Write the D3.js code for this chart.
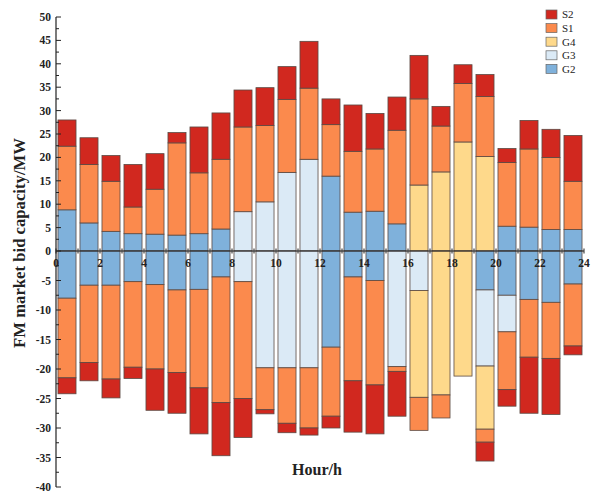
<!DOCTYPE html>
<html>
<head>
<meta charset="utf-8">
<script src="https://cdn.jsdelivr.net/npm/d3@7"></script>
<style>
  body { margin: 0; background: #fff; }
  svg text { font-family: "Liberation Serif", "DejaVu Serif", serif; }
</style>
</head>
<body>
<div id="chart"></div>
<script>
// --- data (MW), one value per hour 0..23 ---
const hours = d3.range(24);
const keys = ["G2", "G3", "G4", "S1", "S2"];
const legendKeys = ["S2", "S1", "G4", "G3", "G2"];

// upward bids (segment heights)
const g2Up = [8.8, 6.0, 4.2, 3.7, 3.6, 3.4, 3.7, 4.7, 0, 0, 0, 0, 16.0, 8.3, 8.5, 5.8, 0, 0, 0, 0, 5.3, 5.1, 4.6, 4.6];
const g3Up = [0, 0, 0, 0, 0, 0, 0, 0, 8.4, 10.5, 16.8, 19.6, 0, 0, 0, 0, 0, 0, 0, 0, 0, 0, 0, 0];
const g4Up = [0, 0, 0, 0, 0, 0, 0, 0, 0, 0, 0, 0, 0, 0, 0, 0, 14.1, 16.9, 23.3, 20.2, 0, 0, 0, 0];
const s1Up = [13.6, 12.5, 10.7, 5.7, 9.6, 19.7, 13.0, 14.9, 18.1, 16.3, 15.6, 15.2, 11.0, 13.0, 13.3, 20.0, 18.4, 9.8, 12.5, 12.8, 13.6, 16.7, 15.4, 10.3];
const s2Up = [5.6, 5.7, 5.5, 9.1, 7.6, 2.2, 9.8, 9.9, 7.9, 8.1, 7.0, 10.0, 5.5, 9.9, 7.6, 7.1, 9.3, 4.2, 4.0, 4.7, 3.0, 6.1, 6.0, 9.8];

// downward bids (segment heights, drawn below zero)
const g2Down = [8.0, 5.8, 5.8, 5.2, 5.7, 6.6, 6.5, 4.4, 0, 0, 0, 0, 16.3, 4.4, 5.0, 0, 0, 0, 0, 6.6, 7.5, 8.2, 8.7, 5.6];
const g3Down = [0, 0, 0, 0, 0, 0, 0, 0, 5.2, 19.8, 19.8, 19.8, 0, 0, 0, 19.6, 6.7, 0, 0, 12.9, 6.2, 0, 0, 0];
const g4Down = [0, 0, 0, 0, 0, 0, 0, 0, 0, 0, 0, 0, 0, 0, 0, 0, 18.1, 24.4, 21.2, 10.7, 0, 0, 0, 0];
const s1Down = [13.5, 13.1, 15.9, 14.5, 14.3, 14.0, 16.7, 21.3, 19.8, 7.1, 9.4, 10.2, 11.7, 17.6, 17.7, 0.8, 5.6, 3.9, 0, 2.2, 9.8, 9.8, 9.5, 10.5];
const s2Down = [2.7, 3.1, 3.2, 1.9, 7.0, 6.9, 7.8, 9.0, 6.6, 0.7, 1.6, 1.2, 2.0, 8.7, 8.3, 7.6, 0, 0, 0, 3.2, 2.8, 9.5, 9.5, 1.5];

const yTicks = d3.range(-40, 51, 5);
const xTicks = d3.range(0, 25, 2);

const colors = {
  S2: "#d1281f",
  S1: "#fb8a4d",
  G4: "#fed98b",
  G3: "#dbeaf6",
  G2: "#7fb1db"
};

// --- layout ---
const width = 591, height = 496;

const svg = d3.select("#chart").append("svg")
  .attr("width", width).attr("height", height);

const x = d3.scaleLinear().domain([0, 24]).range([56, 584]);
const xBand = d3.scaleBand().domain(hours).range([56, 584]).paddingInner(0.18).paddingOuter(0.09);
// the source picture has a different scale above and below zero
const y = d3.scaleLinear().domain([-40, 0, 50]).range([487, 251, 17]);

const upRows = hours.map(h => ({ hour: h, G2: g2Up[h], G3: g3Up[h], G4: g4Up[h], S1: s1Up[h], S2: s2Up[h] }));
const downRows = hours.map(h => ({ hour: h, G2: -g2Down[h], G3: -g3Down[h], G4: -g4Down[h], S1: -s1Down[h], S2: -s2Down[h] }));

const stack = d3.stack().keys(keys).offset(d3.stackOffsetDiverging);
const stacked = [...stack(upRows), ...stack(downRows)];

const bars = svg.append("g");
stacked.forEach(series => {
  bars.append("g")
    .attr("fill", colors[series.key])
    .selectAll("rect")
    .data(series.filter(d => d[1] !== d[0]))
    .join("rect")
    .attr("x", d => xBand(d.data.hour))
    .attr("width", xBand.bandwidth())
    .attr("y", d => y(Math.max(d[0], d[1])))
    .attr("height", d => Math.abs(y(d[0]) - y(d[1])))
    .attr("stroke", "#5a4a44")
    .attr("stroke-width", 0.8);
});

// --- y axis ---
const yAxis = svg.append("g").attr("transform", "translate(56,0)");
yAxis.append("line").attr("y1", y(-40)).attr("y2", y(50)).attr("stroke", "#222").attr("stroke-width", 1.2);
yAxis.selectAll(".major").data(yTicks).join("line")
  .attr("x1", 0).attr("x2", 5).attr("y1", d => y(d)).attr("y2", d => y(d))
  .attr("stroke", "#222");
yAxis.selectAll(".minor").data(yTicks.slice(0, -1).map(d => d + 2.5)).join("line")
  .attr("x1", 0).attr("x2", 3).attr("y1", d => y(d)).attr("y2", d => y(d))
  .attr("stroke", "#222");
yAxis.selectAll("text").data(yTicks).join("text")
  .attr("x", -5).attr("y", d => y(d)).attr("dy", "0.35em")
  .attr("text-anchor", "end")
  .style("font-size", "11.5px").style("font-weight", "bold").style("fill", "#222")
  .text(d => d);

// --- x axis at zero ---
const xAxis = svg.append("g").attr("transform", `translate(0,${y(0)})`);
xAxis.append("line").attr("x1", x(0)).attr("x2", x(24)).attr("stroke", "#222").attr("stroke-width", 1.2);
xAxis.selectAll(".tick").data(d3.range(0, 25)).join("line")
  .attr("x1", d => x(d)).attr("x2", d => x(d))
  .attr("y1", -2.5).attr("y2", 2.5)
  .attr("stroke", "#222");
xAxis.selectAll("text").data(xTicks).join("text")
  .attr("x", d => x(d)).attr("y", 16)
  .attr("text-anchor", "middle")
  .style("font-size", "11.5px").style("font-weight", "bold").style("fill", "#222")
  .text(d => d);

// --- titles ---
svg.append("text")
  .attr("transform", "translate(25,243) rotate(-90)")
  .attr("text-anchor", "middle")
  .style("font-size", "16.7px").style("font-weight", "bold").style("fill", "#222")
  .text("FM market bid capacity/MW");

svg.append("text")
  .attr("x", 317).attr("y", 475)
  .attr("text-anchor", "middle")
  .style("font-size", "16px").style("font-weight", "bold").style("fill", "#222")
  .text("Hour/h");

// --- legend ---
const legend = svg.append("g").attr("transform", "translate(546,10)");
legendKeys.forEach((k, i) => {
  const g = legend.append("g").attr("transform", `translate(0,${i * 13.6})`);
  g.append("rect").attr("width", 11).attr("height", 9)
    .attr("fill", colors[k]).attr("stroke", "#666").attr("stroke-width", 0.7);
  g.append("text").attr("x", 16).attr("y", 4.5).attr("dy", "0.35em")
    .style("font-size", "11px").style("fill", "#222")
    .text(k);
});
</script>
</body>
</html>
